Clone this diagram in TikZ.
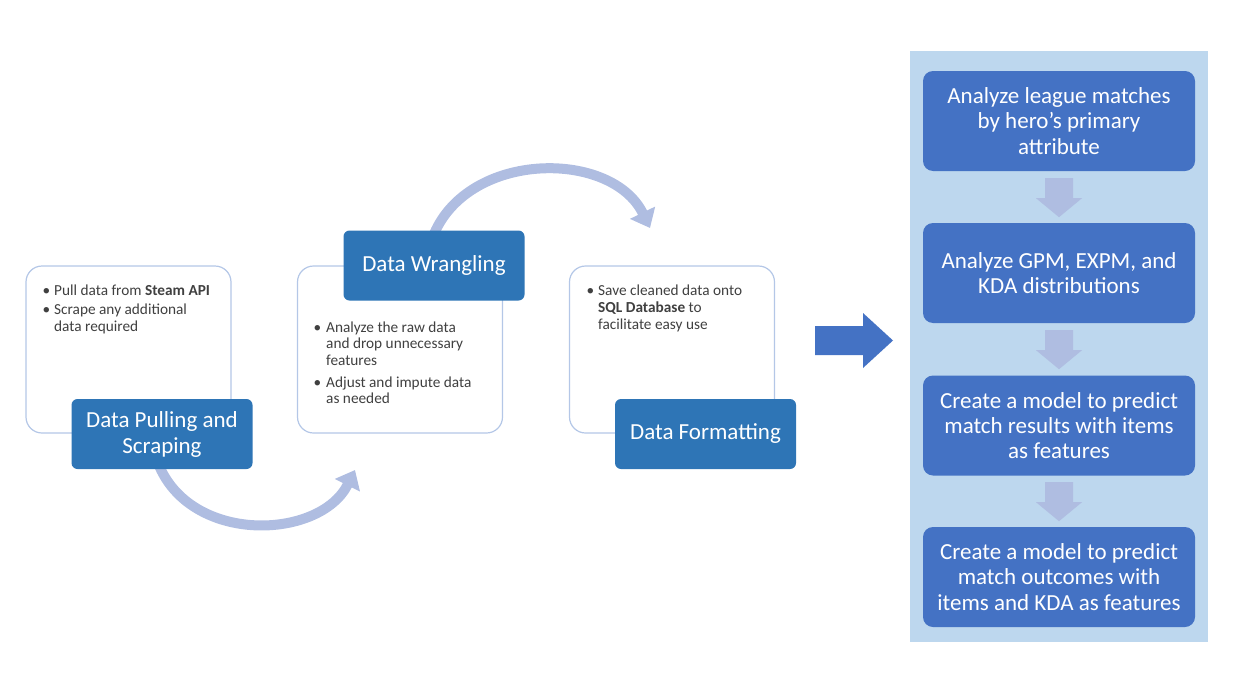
\documentclass[tikz,border=0pt]{standalone}
\usepackage{fontspec}
\setmainfont{Carlito}
\usetikzlibrary{arrows.meta,calc}
\definecolor{panelc}{HTML}{BDD7EE}
\definecolor{labc}{HTML}{2E75B6}
\definecolor{boxc}{HTML}{4472C4}
\definecolor{arrc}{HTML}{AFBDE1}
\definecolor{outc}{HTML}{B4C7E7}
\definecolor{txtc}{HTML}{404040}
\tikzset{
  outbox/.style={draw=outc, line width=1.2pt, fill=white, rounded corners=16pt,
    minimum width=205pt, minimum height=167pt, inner sep=0pt},
  labbox/.style={fill=labc, rounded corners=6pt, minimum width=181pt, minimum height=70pt,
    inner sep=0pt, text=white, align=center, font=\fontsize{23}{26}\selectfont},
  stepbox/.style={fill=boxc, rounded corners=10pt, minimum width=272pt, minimum height=100pt,
    inner sep=0pt, text=white, align=center, font=\fontsize{23}{25.3}\selectfont},
  bline/.style={anchor=base west, inner sep=0pt, text=txtc, font=\fontsize{15.3}{17}\selectfont},
  bdot/.style={anchor=base west, inner sep=0pt, text=txtc, font=\fontsize{15.3}{17}\selectfont},
  curvearr/.style={draw=arrc, line width=10pt, -{Triangle[width=27pt,length=17pt]}},
  darr/.pic={\fill[arrc] (-14,0) -- (14,0) -- (14,20) -- (23,20) -- (0,39) -- (-23,20) -- (-14,20) -- cycle;}
}
\begin{document}
\begin{tikzpicture}[x=1pt,y=-1pt]
\useasboundingbox (0,0) rectangle (1233,688);

% outline boxes
\node[outbox] (o1) at (128.5,349.5) {};
\node[outbox] (o2) at (400,349.5) {};
\node[outbox] (o3) at (672,349.5) {};

% curved arrows (behind labels)
\coordinate (e1) at (355,470);
\coordinate (e2) at (650,228);
\coordinate (s1) at (158,463);
\coordinate (s2) at (434,234);
\draw[curvearr] (s1) .. controls (190,545) and (320,540) .. (e1);
\draw[curvearr] (s2) .. controls (470,150) and (612,150) .. (e2);

% labels
\node[labbox] (l1) at (162,434) {Data Pulling and\\Scraping};
\node[labbox] (l2) at (434,265.5) {Data Wrangling};
\node[labbox] (l3) at (705.5,434) {Data Formatting};

% bullets box 1
\node[bdot] (d1a) at (42.5,295) {•};
\node[bline] (t1a) at (54,295) {Pull data from \textbf{Steam API}};
\node[bdot] (d1b) at (42.5,314) {•};
\node[bline] (t1b) at (54,314) {Scrape any additional};
\node[bline] (t1c) at (54,331) {data required};

% bullets box 2
\node[bdot] (d2a) at (313.5,332) {•};
\node[bline] (t2a) at (326,332) {Analyze the raw data};
\node[bline] (t2b) at (326,348.5) {and drop unnecessary};
\node[bline] (t2c) at (326,365) {features};
\node[bdot] (d2b) at (313.5,387) {•};
\node[bline] (t2d) at (326,387) {Adjust and impute data};
\node[bline] (t2e) at (326,403.5) {as needed};

% bullets box 3
\node[bdot] (d3a) at (586.5,295) {•};
\node[bline] (t3a) at (598,295) {Save cleaned data onto};
\node[bline] (t3b) at (598,312) {\textbf{SQL Database} to};
\node[bline] (t3c) at (598,329) {facilitate easy use};

% big arrow
\fill[boxc] (815,326) -- (863,326) -- (863,313) -- (893,340.5) -- (863,368) -- (863,355) -- (815,355) -- cycle;

% right panel
\fill[panelc] (910,51) rectangle (1208,642);
\node[stepbox] (a) at (1059,121) {Analyze league matches\\by hero’s primary\\attribute};
\node[stepbox] (b) at (1059,273) {Analyze GPM, EXPM, and\\KDA distributions};
\node[stepbox] (c) at (1059,425.5) {Create a model to predict\\match results with items\\as features};
\node[stepbox] (d) at (1059,577) {Create a model to predict\\match outcomes with\\items and KDA as features};

\pic at ($(a.south)+(0,7)$) {darr};
\pic at ($(b.south)+(0,7)$) {darr};
\pic at ($(c.south)+(0,6.5)$) {darr};
\end{tikzpicture}
\end{document}
